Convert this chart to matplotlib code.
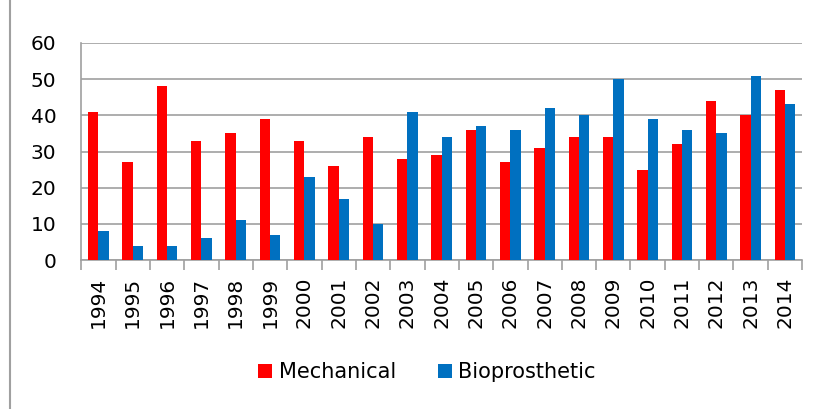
import numpy as np
import matplotlib.pyplot as plt
from matplotlib.patches import Rectangle

years = [str(y) for y in range(1994, 2015)]
mechanical = [41, 27, 48, 33, 35, 39, 33, 26, 34, 28, 29, 36, 27, 31, 34, 34, 25, 32, 44, 40, 47]
bioprosthetic = [8, 4, 4, 6, 11, 7, 23, 17, 10, 41, 34, 37, 36, 42, 40, 50, 39, 36, 35, 51, 43]

fig = plt.figure(figsize=(8.21, 4.09), dpi=100)
ax = fig.add_axes([0.099, 0.364, 0.878, 0.531])

x = np.arange(len(years))
w = 0.3
ax.bar(x - w / 2, mechanical, w, color="#ff0000", label="Mechanical", zorder=3)
ax.bar(x + w / 2, bioprosthetic, w, color="#0070c0", label="Bioprosthetic", zorder=3)

ax.set_xlim(-0.5, len(years) - 0.5)
ax.set_ylim(0, 60)
ax.set_yticks(range(0, 61, 10))
ax.yaxis.grid(True, color="#a0a0a0", linewidth=1.2, zorder=0)
ax.tick_params(axis="y", length=0, labelsize=14.5, pad=18)

# year labels centered, tick marks between categories
ax.set_xticks(x)
ax.set_xticklabels(years, rotation=90, fontsize=14.5)
ax.tick_params(axis="x", which="major", length=0, pad=12)
ax.set_xticks(np.arange(-0.5, len(years)), minor=True)
ax.tick_params(axis="x", which="minor", length=7, color="#a0a0a0", width=1.2)

for s in ["top", "right"]:
    ax.spines[s].set_visible(False)
ax.spines["left"].set_color("#a0a0a0")
ax.spines["bottom"].set_color("#a0a0a0")
ax.spines["left"].set_linewidth(1.2)
ax.spines["bottom"].set_linewidth(1.2)

fig.legend(loc="center", bbox_to_anchor=(0.52, 0.09), ncol=2, frameon=False,
           handlelength=0.7, handleheight=0.7, handletextpad=0.3,
           columnspacing=2.0, fontsize=15)

# chart frame on the left
fig.patches.append(Rectangle((0.012, -0.01), 1.1, 1.1, transform=fig.transFigure,
                             fill=False, edgecolor="#a0a0a0", linewidth=1.5))

fig.savefig("out.png", dpi=100)
